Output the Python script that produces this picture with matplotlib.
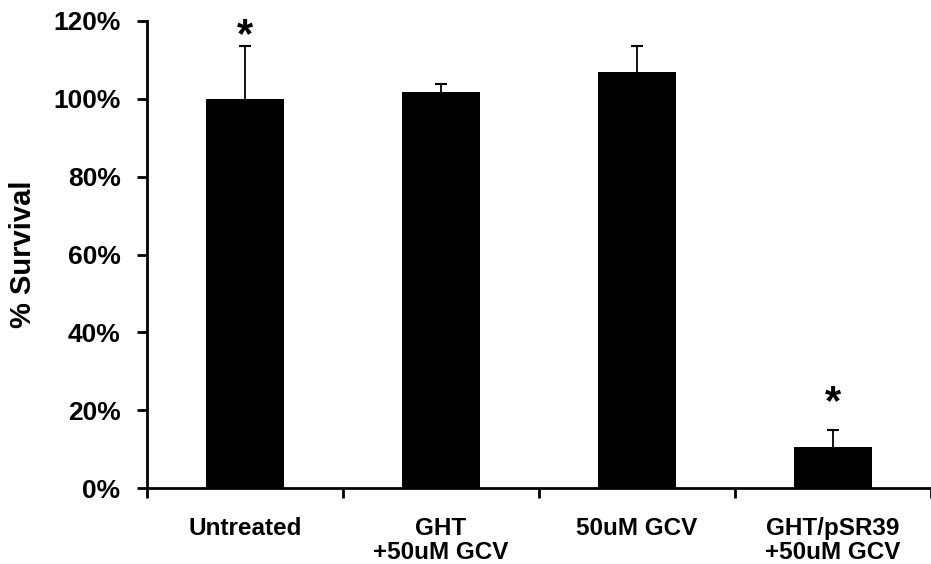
import numpy as np
import matplotlib
matplotlib.use("Agg")
import matplotlib.pyplot as plt

categories = ["Untreated", "GHT\n+50uM GCV", "50uM GCV", "GHT/pSR39\n+50uM GCV"]
survival = [100, 101.8, 106.8, 10.6]
err_up = [13.7, 1.9, 6.9, 4.2]
star_pos = [116, None, None, 21.8]

plt.rcParams['font.family'] = ['Liberation Sans', 'DejaVu Sans']
plt.rcParams['font.weight'] = 'bold'

fig = plt.figure(figsize=(9.31, 5.64), dpi=100)
ax = fig.add_axes([147 / 931, 1 - 488 / 564, 1 - 147 / 931, (488 - 21) / 564])

x = np.arange(len(categories))
tops = np.array(survival) + np.array(err_up)
ax.bar(x, survival, width=0.4, color='black', zorder=2)
# upper error bars only
ax.vlines(x, survival, tops, color='black', linewidth=1.3, zorder=1)
ax.plot(x, tops, linestyle='none', marker='_', markersize=8,
        markeredgewidth=1.5, color='black', zorder=1)

for xi, s in zip(x, star_pos):
    if s is not None:
        ax.text(xi, s, '*', ha='center', va='center', fontsize=30, fontweight='bold')

ax.set_ylim(0, 120)
ax.set_xlim(-0.5, 3.5)
ax.set_yticks(np.arange(0, 121, 20))
ax.set_yticklabels([f"{v}%" for v in range(0, 121, 20)])
ax.set_xticks(x)
ax.set_xticklabels(categories, fontsize=17.5, linespacing=1.07)
ax.set_xticks(np.arange(-0.5, 3.6, 1), minor=True)
ax.tick_params(axis='x', which='major', length=0, pad=21)
ax.tick_params(axis='x', which='minor', length=7, width=2, direction='out')
ax.tick_params(axis='y', length=7, width=2, labelsize=19, pad=12)

ax.set_ylabel('% Survival', fontsize=21, fontweight='bold')
ax.yaxis.set_label_coords(-0.140, 0.5)

for side in ['top', 'right']:
    ax.spines[side].set_visible(False)
for side in ['left', 'bottom']:
    ax.spines[side].set_linewidth(2)

fig.savefig('out.png', dpi=100)
